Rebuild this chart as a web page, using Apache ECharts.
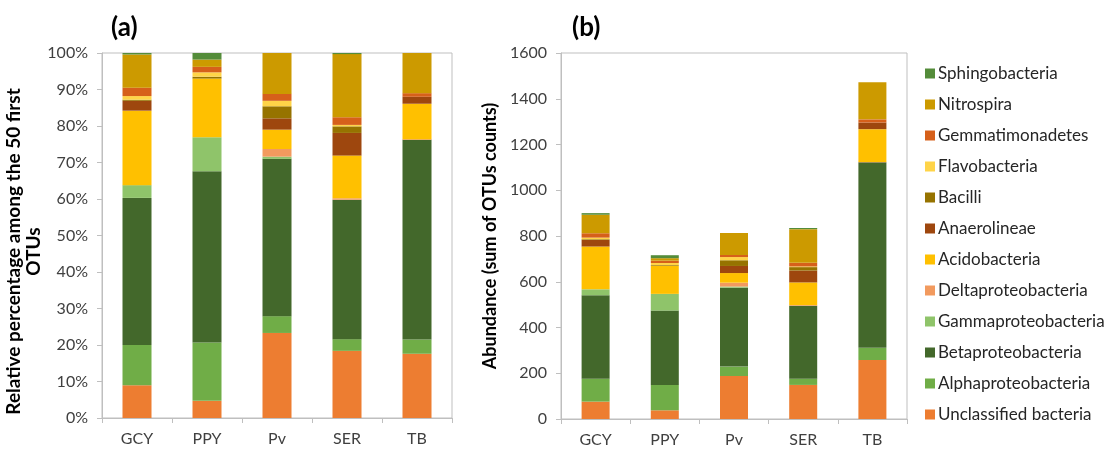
<!DOCTYPE html>
<html><head><meta charset="utf-8">
<script src="https://cdn.jsdelivr.net/npm/echarts@6/dist/echarts.min.js"></script>
<style>html,body{margin:0;padding:0;background:#fff}#c{width:1109px;height:450px}</style>
</head><body><div id="c"></div>
<script>
const categories = ['GCY','PPY','Pv','SER','TB'];
const seriesNames = ['Unclassified bacteria','Alphaproteobacteria','Betaproteobacteria','Gammaproteobacteria','Deltaproteobacteria','Acidobacteria','Anaerolineae','Bacilli','Flavobacteria','Gemmatimonadetes','Nitrospira','Sphingobacteria'];
const seriesColors = ['#ED7D31','#70AD47','#43682B','#8FC46A','#F29A5E','#FFC000','#9E470E','#967300','#FFD448','#D6601A','#CC9A00','#548C3A'];
const pctTicks = [0,10,20,30,40,50,60,70,80,90,100];
const countTicks = [0,200,400,600,800,1000,1200,1400,1600];

// Panel (a): relative percentage (per category GCY, PPY, Pv, SER, TB)
const pctUnclassified = [9.0, 4.7, 23.3, 18.4, 17.6];
const pctAlpha        = [11.0, 16.0, 4.6, 3.2, 3.9];
const pctBeta         = [40.3, 46.9, 43.1, 38.2, 54.7];
const pctGamma        = [3.5, 9.3, 0.6, 0, 0];
const pctDelta        = [0, 0, 2.1, 0.4, 0.2];
const pctAcido        = [20.4, 16.1, 5.3, 11.7, 9.7];
const pctAnaero       = [2.7, 0, 3.1, 6.2, 1.9];
const pctBacilli      = [0.3, 0.5, 3.3, 1.8, 0];
const pctFlavo        = [1.0, 1.2, 1.5, 0.4, 0];
const pctGemmat       = [2.3, 1.5, 1.9, 2.1, 1.0];
const pctNitro        = [9.1, 2.0, 11.2, 17.3, 11.0];
const pctSphingo      = [0.4, 1.8, 0, 0.3, 0];

// Panel (b): abundance (sum of OTU counts)
const cntUnclassified = [76, 38, 188, 149, 258];
const cntAlpha        = [100, 111, 41, 27, 53];
const cntBeta         = [365, 325, 345, 319, 811];
const cntGamma        = [26, 73, 5, 0, 0];
const cntDelta        = [0, 0, 17, 3, 2];
const cntAcido        = [187, 123, 42, 99, 143];
const cntAnaero       = [29, 0, 31, 52, 29];
const cntBacilli      = [3, 3, 25, 15, 0];
const cntFlavo        = [7, 9, 14, 3, 0];
const cntGemmat       = [19, 10, 9, 16, 14];
const cntNitro        = [81, 11, 96, 147, 162];
const cntSphingo      = [7, 13, 0, 5, 0];

const pctData = [pctUnclassified,pctAlpha,pctBeta,pctGamma,pctDelta,pctAcido,pctAnaero,pctBacilli,pctFlavo,pctGemmat,pctNitro,pctSphingo];
const cntData = [cntUnclassified,cntAlpha,cntBeta,cntGamma,cntDelta,cntAcido,cntAnaero,cntBacilli,cntFlavo,cntGemmat,cntNitro,cntSphingo];

const FONT = 'Lato';
const axisGray = '#BFBFBF';
const labelColor = '#404040';

const series = [];
seriesNames.forEach((n,i)=>{
  series.push({name:n,type:'bar',stack:'a',xAxisIndex:0,yAxisIndex:0,barWidth:29,
    itemStyle:{color:seriesColors[i]},data:pctData[i],animation:false});
  series.push({name:n,type:'bar',stack:'b',xAxisIndex:1,yAxisIndex:1,barWidth:28,
    itemStyle:{color:seriesColors[i]},data:cntData[i],animation:false});
});

function xAx(idx){
  return {type:'category',gridIndex:idx,data:categories,
    axisLine:{lineStyle:{color:axisGray}},
    axisTick:{show:true,length:5,lineStyle:{color:axisGray}},
    axisLabel:{color:labelColor,fontFamily:FONT,fontSize:16,margin:13}};
}

const option = {
  backgroundColor:'#fff',
  animation:false,
  title:[
    {text:'(a)',left:106,top:10,textStyle:{fontFamily:FONT,fontSize:26,fontWeight:'bold',color:'#000'}},
    {text:'(b)',left:567,top:10,textStyle:{fontFamily:FONT,fontSize:26,fontWeight:'bold',color:'#000'}}
  ],
  legend:{orient:'vertical',left:920,top:60,itemWidth:10,itemHeight:10,itemGap:14,
    icon:'rect',
    data:seriesNames.slice().reverse(),
    textStyle:{fontFamily:FONT,fontSize:17,color:'#262626',padding:[0,0,0,-2]}},
  grid:[
    {left:102,top:53,width:350,height:365,show:true,borderColor:axisGray,borderWidth:1},
    {left:561,top:53,width:346,height:366,show:true,borderColor:axisGray,borderWidth:1}
  ],
  xAxis:[xAx(0),xAx(1)],
  yAxis:[
    {type:'value',gridIndex:0,min:pctTicks[0],max:pctTicks[pctTicks.length-1],interval:10,
     name:'Relative percentage among the 50 first\nOTUs',nameLocation:'middle',nameGap:56,
     nameTextStyle:{fontFamily:FONT,fontSize:19,fontWeight:'bold',color:'#000',lineHeight:20,padding:[0,32,0,0]},
     splitLine:{show:false},
     axisLine:{show:true,lineStyle:{color:axisGray}},
     axisTick:{show:true,length:5,lineStyle:{color:axisGray}},
     axisLabel:{color:labelColor,fontFamily:FONT,fontSize:16,margin:14,formatter:'{value}%'}},
    {type:'value',gridIndex:1,min:countTicks[0],max:countTicks[countTicks.length-1],interval:200,
     name:'Abundance (sum of OTUs counts)',nameLocation:'middle',nameGap:62,
     nameTextStyle:{fontFamily:FONT,fontSize:18,fontWeight:'bold',color:'#000'},
     splitLine:{show:false},
     axisLine:{show:true,lineStyle:{color:axisGray}},
     axisTick:{show:true,length:5,lineStyle:{color:axisGray}},
     axisLabel:{color:labelColor,fontFamily:FONT,fontSize:16,margin:14,formatter:(v)=>String(v)}}
  ],
  series:series
};
const chart = echarts.init(document.getElementById('c'),null,{renderer:'canvas'});
chart.setOption(option);
</script></body></html>
